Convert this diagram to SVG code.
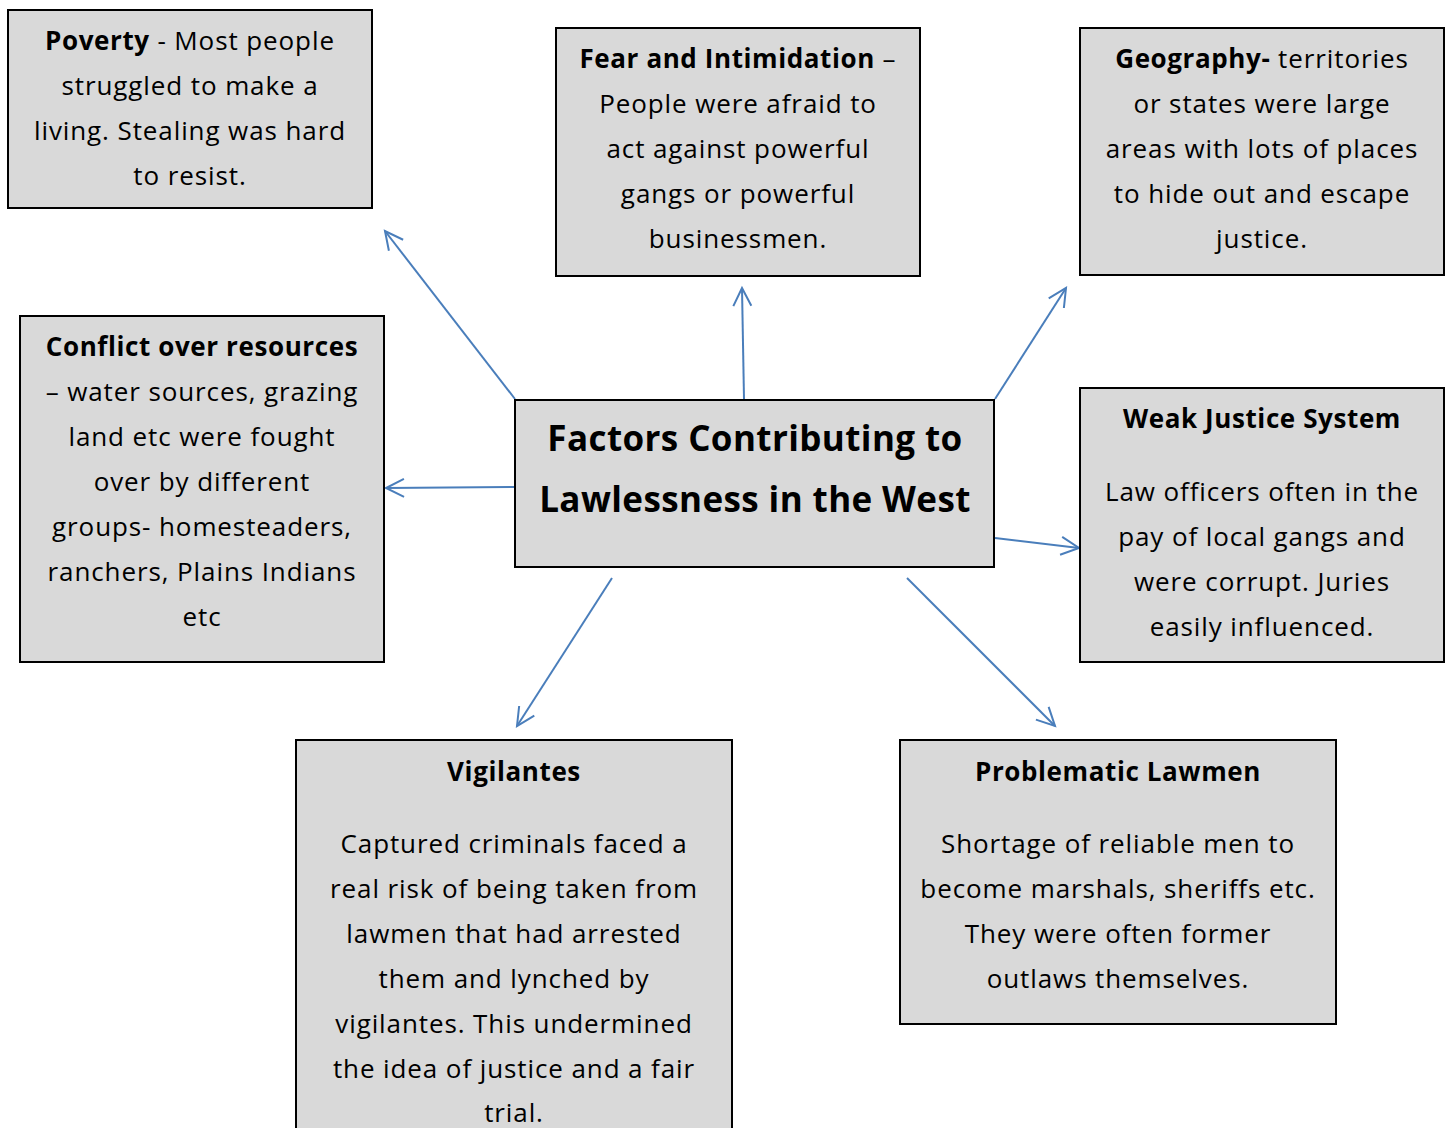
<svg xmlns="http://www.w3.org/2000/svg" width="1449" height="1128" viewBox="0 0 1449 1128">
  <style>
    .box { fill: #D9D9D9; stroke: #000; stroke-width: 2; }
    .t { font-family: "Open Sans", "Noto Sans", sans-serif; font-size: 26px; letter-spacing: 0.9px; fill: #000; text-anchor: middle; }
    .b { font-weight: bold; letter-spacing: 0.6px; }
    .title { font-family: "Open Sans", "Noto Sans", sans-serif; font-size: 35px; letter-spacing: 0.4px; font-weight: bold; fill: #000; text-anchor: middle; }
    .conn { stroke: #4A7EBB; stroke-width: 2; fill: none; marker-end: url(#arrow); }
  </style>
  <defs>
    <marker id="arrow" markerUnits="userSpaceOnUse" viewBox="-22 -12 26 24" refX="0" refY="0" markerWidth="26" markerHeight="24" orient="auto">
      <path d="M-18,-9 L0,0 L-18,9" fill="none" stroke="#4A7EBB" stroke-width="2"/>
    </marker>
  </defs>
  <rect width="1449" height="1128" fill="#fff"/>

  <!-- connectors from the central box -->
  <g id="connectors">
    <line class="conn" x1="515" y1="399" x2="385" y2="231"/>
    <line class="conn" x1="744" y1="399" x2="742" y2="288"/>
    <line class="conn" x1="995" y1="399" x2="1066" y2="288"/>
    <line class="conn" x1="515" y1="487" x2="386" y2="488"/>
    <line class="conn" x1="995" y1="538" x2="1079" y2="548"/>
    <line class="conn" x1="612" y1="578" x2="517" y2="726"/>
    <line class="conn" x1="907" y1="578" x2="1055" y2="726"/>
  </g>

  <g id="center">
    <rect class="box" x="515" y="400" width="479" height="167"/>
    <text class="title" x="755" y="451">Factors Contributing to</text>
    <text class="title" x="755" y="512">Lawlessness in the West</text>
  </g>

  <g id="poverty">
    <rect class="box" x="8" y="10" width="364" height="198"/>
    <text class="t" x="190" y="50"><tspan class="b">Poverty</tspan> - Most people</text>
    <text class="t" x="190" y="95">struggled to make a</text>
    <text class="t" x="190" y="140">living. Stealing was hard</text>
    <text class="t" x="190" y="185">to resist.</text>
  </g>

  <g id="fear">
    <rect class="box" x="556" y="28" width="364" height="248"/>
    <text class="t" x="738" y="68"><tspan class="b">Fear and Intimidation</tspan> –</text>
    <text class="t" x="738" y="113">People were afraid to</text>
    <text class="t" x="738" y="158">act against powerful</text>
    <text class="t" x="738" y="203">gangs or powerful</text>
    <text class="t" x="738" y="248">businessmen.</text>
  </g>

  <g id="geography">
    <rect class="box" x="1080" y="28" width="364" height="247"/>
    <text class="t" x="1262" y="68"><tspan class="b">Geography-</tspan> territories</text>
    <text class="t" x="1262" y="113">or states were large</text>
    <text class="t" x="1262" y="158">areas with lots of places</text>
    <text class="t" x="1262" y="203">to hide out and escape</text>
    <text class="t" x="1262" y="248">justice.</text>
  </g>

  <g id="conflict">
    <rect class="box" x="20" y="316" width="364" height="346"/>
    <text class="t b" x="202" y="356">Conflict over resources</text>
    <text class="t" x="202" y="401">– water sources, grazing</text>
    <text class="t" x="202" y="446">land etc were fought</text>
    <text class="t" x="202" y="491">over by different</text>
    <text class="t" x="202" y="536">groups- homesteaders,</text>
    <text class="t" x="202" y="581">ranchers, Plains Indians</text>
    <text class="t" x="202" y="626">etc</text>
  </g>

  <g id="weak-justice">
    <rect class="box" x="1080" y="388" width="364" height="274"/>
    <text class="t b" x="1262" y="428">Weak Justice System</text>
    <text class="t" x="1262" y="501">Law officers often in the</text>
    <text class="t" x="1262" y="546">pay of local gangs and</text>
    <text class="t" x="1262" y="591">were corrupt. Juries</text>
    <text class="t" x="1262" y="636">easily influenced.</text>
  </g>

  <g id="vigilantes">
    <rect class="box" x="296" y="740" width="436" height="400"/>
    <text class="t b" x="514" y="781">Vigilantes</text>
    <text class="t" x="514" y="853">Captured criminals faced a</text>
    <text class="t" x="514" y="898">real risk of being taken from</text>
    <text class="t" x="514" y="943">lawmen that had arrested</text>
    <text class="t" x="514" y="988">them and lynched by</text>
    <text class="t" x="514" y="1033">vigilantes. This undermined</text>
    <text class="t" x="514" y="1078">the idea of justice and a fair</text>
    <text class="t" x="514" y="1122">trial.</text>
  </g>

  <g id="lawmen">
    <rect class="box" x="900" y="740" width="436" height="284"/>
    <text class="t b" x="1118" y="781">Problematic Lawmen</text>
    <text class="t" x="1118" y="853">Shortage of reliable men to</text>
    <text class="t" x="1118" y="898">become marshals, sheriffs etc.</text>
    <text class="t" x="1118" y="943">They were often former</text>
    <text class="t" x="1118" y="988">outlaws themselves.</text>
  </g>
</svg>
